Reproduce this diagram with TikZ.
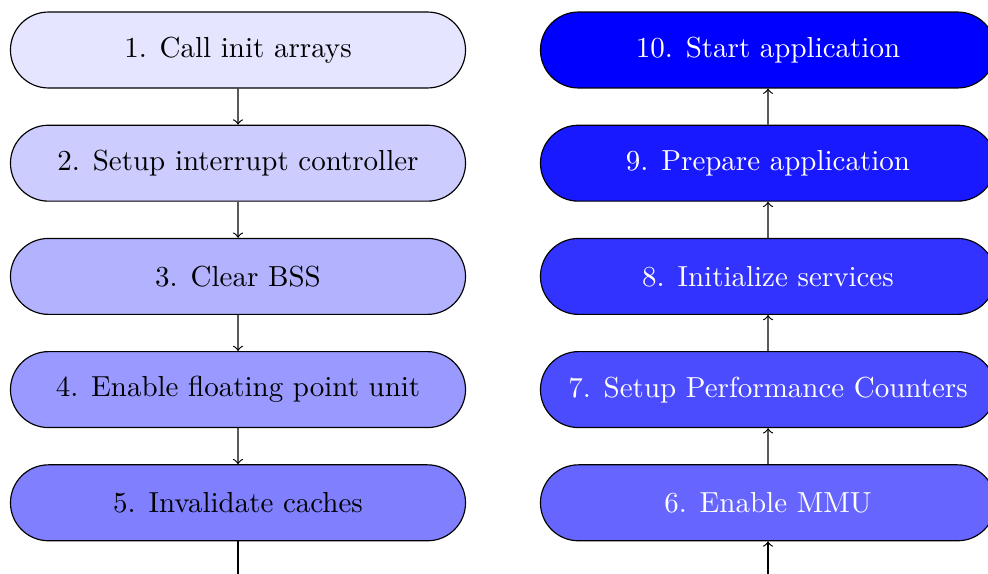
\documentclass[tikz,border=0pt]{standalone}
\usetikzlibrary{shapes.misc}
\begin{document}
\begin{tikzpicture}[x=0.345pt,y=-0.345pt,
  stage/.style={rounded rectangle, draw=black,
    minimum width=157pt, minimum height=26.2pt, inner sep=0pt,
    font=\normalsize},
  dark/.style={stage, text=white},
  flow/.style={->}]
\useasboundingbox (0,0) rectangle (988,574);
% left column, top to bottom
\node[stage, fill=blue!10] (n1) at (238,50)    {1. Call init arrays};
\node[stage, fill=blue!20] (n2) at (238,163.2) {2. Setup interrupt controller};
\node[stage, fill=blue!30] (n3) at (238,276.4) {3. Clear BSS};
\node[stage, fill=blue!40] (n4) at (238,389.6) {4. Enable floating point unit};
\node[stage, fill=blue!50] (n5) at (238,502.8) {5. Invalidate caches};
% right column, bottom to top
\node[dark, fill=blue!60]  (n6)  at (768,502.8) {6. Enable MMU};
\node[dark, fill=blue!70]  (n7)  at (768,389.6) {7. Setup Performance Counters};
\node[dark, fill=blue!80]  (n8)  at (768,276.4) {8. Initialize services};
\node[dark, fill=blue!90]  (n9)  at (768,163.2) {9. Prepare application};
\node[dark, fill=blue!100] (n10) at (768,50)    {10. Start application};
% connectors
\draw[flow] (n1) -- (n2);
\draw[flow] (n2) -- (n3);
\draw[flow] (n3) -- (n4);
\draw[flow] (n4) -- (n5);
\coordinate (turn) at (503,640);
\draw[flow] (n5.south) |- (turn) -| (n6.south);
\draw[flow] (n6) -- (n7);
\draw[flow] (n7) -- (n8);
\draw[flow] (n8) -- (n9);
\draw[flow] (n9) -- (n10);
\end{tikzpicture}
\end{document}
